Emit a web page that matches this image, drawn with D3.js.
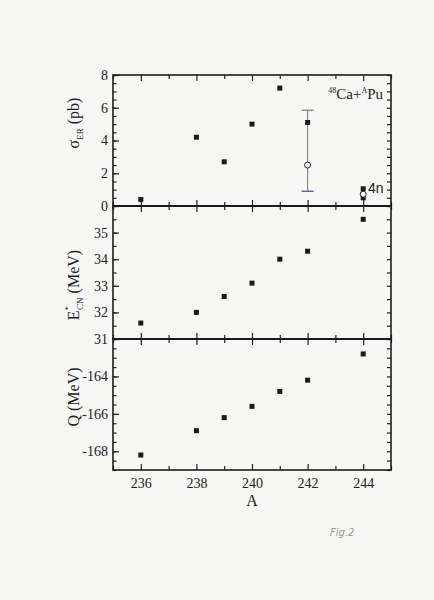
<!DOCTYPE html>
<html>
<head>
<meta charset="utf-8">
<script src="https://cdn.jsdelivr.net/npm/d3@7"></script>
<style>
  body { margin: 0; background: #f7f7f5; }
  svg { display: block; }
  .tk path { display: none; }
  .tk line { stroke: #222; stroke-width: 1.2; }
</style>
</head>
<body>
<script>
// mass number of Pu target
var massA = [236, 238, 239, 240, 241, 242, 244];
// cross section (pb), filled squares
var sigmaA = [236, 238, 239, 240, 241, 242, 244, 244];
var sigma = [0.4, 4.2, 2.7, 5.0, 7.2, 5.1, 1.05, 0.5];
// open circles
var sigmaOpenA = [242, 244];
var sigmaOpen = [2.5, 0.72];
// error bar on A=242
var errA = 242, errLo = 0.9, errHi = 5.85;
// excitation energy of compound nucleus (MeV)
var ecn = [31.6, 32.0, 32.6, 33.1, 34.0, 34.3, 35.5];
// Q value (MeV)
var qval = [-168.2, -166.9, -166.2, -165.6, -164.8, -164.2, -162.8];

var xTicks = [236, 238, 240, 242, 244];
var xMinor = [235, 237, 239, 241, 243, 245];
var y1Ticks = [0, 2, 4, 6, 8];
var y2Ticks = [31, 32, 33, 34, 35];
var y3Ticks = [-168, -166, -164];

var W = 434, H = 600;
var serif = "'Liberation Serif', 'Times New Roman', serif";
var svg = d3.select("body").append("svg").attr("width", W).attr("height", H);

var x = d3.scaleLinear().domain([235, 245]).range([113, 391]);
var y1 = d3.scaleLinear().domain([0, 8]).range([206, 75]);
var y2 = d3.scaleLinear().domain([31, 36]).range([339, 206]);
var y3 = d3.scaleLinear().domain([-169, -162]).range([470, 339]);

function halfSteps(dom) {
  var a = [];
  for (var v = dom[0]; v <= dom[1] + 1e-9; v += 0.5) a.push(v);
  return a;
}
var plain = function (d) { return String(d); };

function addAxis(axis, tx, ty) {
  svg.append("g").attr("class", "tk").attr("transform", "translate(" + tx + "," + ty + ")")
    .call(axis)
    .attr("font-family", serif).attr("font-size", 14)
    .selectAll("text").attr("fill", "#222");
}

function panel(y, majors, showLabelsX) {
  var top = y.range()[1], bot = y.range()[0];
  var left = x.range()[0], right = x.range()[1];
  // top edge, ticks down
  addAxis(d3.axisBottom(x).tickValues(xTicks).tickSize(6).tickFormat(""), 0, top);
  addAxis(d3.axisBottom(x).tickValues(xMinor).tickSize(4).tickFormat(""), 0, top);
  // bottom edge, ticks up
  addAxis(d3.axisBottom(x).tickValues(xTicks).tickSizeInner(-6).tickSizeOuter(0).tickPadding(8)
    .tickFormat(showLabelsX ? plain : ""), 0, bot);
  addAxis(d3.axisBottom(x).tickValues(xMinor).tickSizeInner(-4).tickSizeOuter(0).tickFormat(""), 0, bot);
  // left edge
  addAxis(d3.axisLeft(y).tickValues(majors).tickSizeInner(-6).tickSizeOuter(0).tickPadding(5)
    .tickFormat(plain), left, 0);
  addAxis(d3.axisLeft(y).tickValues(halfSteps(y.domain())).tickSizeInner(-3.5).tickSizeOuter(0)
    .tickFormat(""), left, 0);
  // right edge
  addAxis(d3.axisRight(y).tickValues(halfSteps(y.domain())).tickSizeInner(-4).tickSizeOuter(0)
    .tickFormat(""), right, 0);
  // frame
  svg.append("rect").attr("x", left).attr("y", top)
    .attr("width", right - left).attr("height", bot - top)
    .attr("fill", "none").attr("stroke", "#1c1c1c").attr("stroke-width", 1.6);
}

panel(y1, y1Ticks, false);
panel(y2, y2Ticks, false);
panel(y3, y3Ticks, true);

// thicker separators
[y1.range()[0], y2.range()[0]].forEach(function (yy) {
  svg.append("line").attr("x1", x.range()[0]).attr("x2", x.range()[1])
    .attr("y1", yy).attr("y2", yy).attr("stroke", "#1a1a1a").attr("stroke-width", 2);
});

var sq = 5;
function squares(xs, ys, y) {
  svg.append("g").selectAll("rect").data(ys).join("rect")
    .attr("x", function (d, i) { return x(xs[i]) - sq / 2; })
    .attr("y", function (d) { return y(d) - sq / 2; })
    .attr("width", sq).attr("height", sq).attr("fill", "#1a1a1a");
}

// error bar
svg.append("line").attr("x1", x(errA)).attr("x2", x(errA))
  .attr("y1", y1(errHi)).attr("y2", y1(errLo)).attr("stroke", "#8a8a8a").attr("stroke-width", 1.2);
svg.append("line").attr("x1", x(errA) - 6).attr("x2", x(errA) + 6)
  .attr("y1", y1(errHi)).attr("y2", y1(errHi)).attr("stroke", "#777").attr("stroke-width", 1.2);
svg.append("line").attr("x1", x(errA) - 6).attr("x2", x(errA) + 6)
  .attr("y1", y1(errLo)).attr("y2", y1(errLo)).attr("stroke", "#5a62b0").attr("stroke-width", 1.4);

squares(sigmaA, sigma, y1);
svg.append("g").selectAll("circle").data(sigmaOpen).join("circle")
  .attr("cx", function (d, i) { return x(sigmaOpenA[i]); })
  .attr("cy", function (d) { return y1(d); })
  .attr("r", 3).attr("fill", "#fff").attr("stroke", "#222").attr("stroke-width", 1);
squares(massA, ecn, y2);
squares(massA, qval, y3);

// reaction label
var lab = svg.append("text").attr("x", 383).attr("y", 99).attr("text-anchor", "end")
  .attr("font-family", serif).attr("font-size", 15).attr("fill", "#222");
lab.append("tspan").attr("font-size", 8).attr("dy", -6).text("48");
lab.append("tspan").attr("dy", 6).text("Ca+");
lab.append("tspan").attr("font-size", 8).attr("dy", -6).text("A");
lab.append("tspan").attr("dy", 6).text("Pu");

svg.append("text").attr("x", 368).attr("y", 193)
  .attr("font-family", "'Liberation Sans', Arial, sans-serif").attr("font-size", 14)
  .attr("fill", "#222").text("4n");

// y labels
var l1 = svg.append("text").attr("transform", "translate(79,123) rotate(-90)")
  .attr("text-anchor", "middle").attr("font-family", serif).attr("font-size", 16).attr("fill", "#222");
l1.append("tspan").text("σ");
l1.append("tspan").attr("font-size", 9).attr("dy", 4).text("ER");
l1.append("tspan").attr("dy", -4).text(" (pb)");

var l2 = svg.append("text").attr("transform", "translate(79,285) rotate(-90)")
  .attr("text-anchor", "middle").attr("font-family", serif).attr("font-size", 16).attr("fill", "#222");
l2.append("tspan").text("E");
l2.append("tspan").attr("font-size", 9).attr("dy", -8).text("*");
l2.append("tspan").attr("font-size", 9).attr("dx", -4).attr("dy", 12).text("CN");
l2.append("tspan").attr("dy", -4).text(" (MeV)");

svg.append("text").attr("transform", "translate(79,397) rotate(-90)")
  .attr("text-anchor", "middle").attr("font-family", serif).attr("font-size", 16).attr("fill", "#222")
  .text("Q (MeV)");

// x label
svg.append("text").attr("x", x(240)).attr("y", 506).attr("text-anchor", "middle")
  .attr("font-family", serif).attr("font-size", 16).attr("fill", "#222").text("A");

// handwritten note
svg.append("text").attr("x", 330).attr("y", 536)
  .attr("font-family", "'DejaVu Sans', sans-serif").attr("font-style", "italic")
  .attr("font-size", 10).attr("fill", "#999").text("Fig.2");
</script>
</body>
</html>
